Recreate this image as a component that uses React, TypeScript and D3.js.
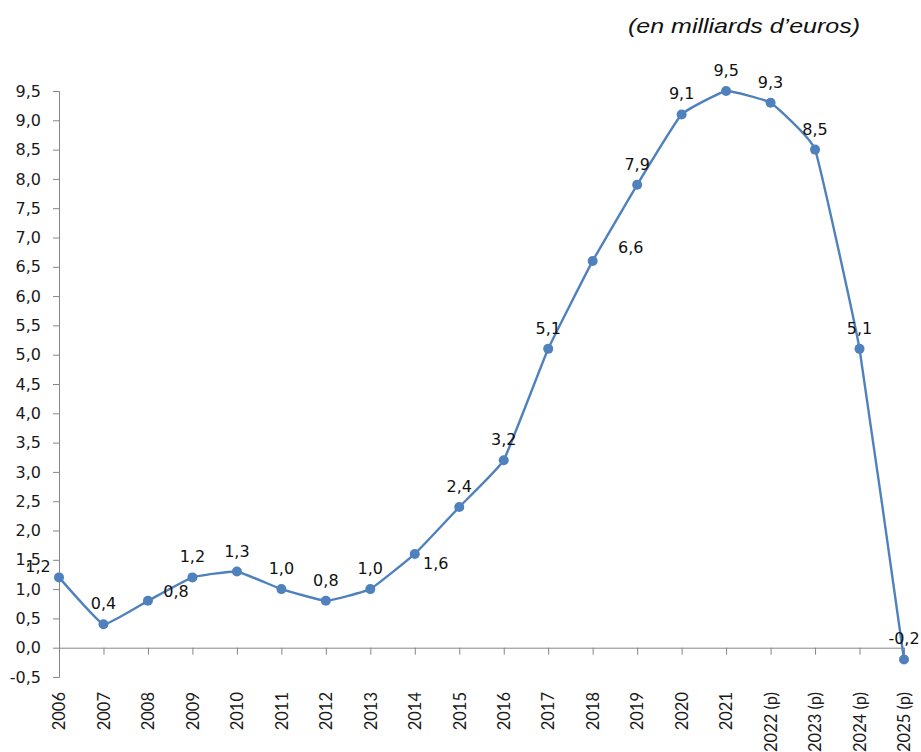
import React, { useRef, useEffect } from 'react';
import * as d3 from 'd3';

const years = [
  '2006', '2007', '2008', '2009', '2010', '2011', '2012', '2013', '2014', '2015',
  '2016', '2017', '2018', '2019', '2020', '2021', '2022 (p)', '2023 (p)', '2024 (p)', '2025 (p)',
];
const values = [1.2, 0.4, 0.8, 1.2, 1.3, 1.0, 0.8, 1.0, 1.6, 2.4, 3.2, 5.1, 6.6, 7.9, 9.1, 9.5, 9.3, 8.5, 5.1, -0.2];
const yTicks = [-0.5, 0, 0.5, 1, 1.5, 2, 2.5, 3, 3.5, 4, 4.5, 5, 5.5, 6, 6.5, 7, 7.5, 8, 8.5, 9, 9.5];

// label placement tweaks where the default (centered above) was moved
const labelShift: Record<string, [number, number]> = {
  '2006': [-21, -5],
  '2008': [28, -4],
  '2014': [21, 15],
  '2018': [38, -8],
};

const width = 921;
const height = 752;
const blue = '#4F81BD';
const axisGrey = '#868686';
const fmt = (v: number) => v.toFixed(1).replace('.', ',');

const App: React.FC = () => {
  const svgRef = useRef<SVGSVGElement | null>(null);

  useEffect(() => {
    const svg = d3.select(svgRef.current!);
    svg.selectAll('*').remove();

    const x = d3.scalePoint<string>().domain(years).range([59, 904]);
    const y = d3.scaleLinear().domain([-0.5, 9.5]).range([677, 91]);
    const font = '"DejaVu Sans", Verdana, sans-serif';

    // y axis
    const yAxis = svg.append('g')
      .attr('transform', 'translate(59,0)')
      .call(d3.axisLeft(y).tickValues(yTicks).tickSize(6).tickPadding(12).tickFormat((d) => fmt(+d)));
    yAxis.selectAll('line, path').attr('stroke', axisGrey);
    yAxis.selectAll('text').attr('font-family', font).attr('font-size', 16).attr('fill', '#1a1a1a');

    // x axis at zero
    const xAxis = svg.append('g')
      .attr('transform', `translate(0,${y(0)})`)
      .call(d3.axisBottom(x).tickSize(7).tickSizeOuter(0));
    xAxis.selectAll('line, path').attr('stroke', axisGrey);
    xAxis.selectAll('text')
      .attr('font-family', 'Lato, "Open Sans", sans-serif')
      .attr('font-size', 16.5)
      .attr('fill', '#1a1a1a')
      .attr('transform', `translate(0,${692 - y(0)}) rotate(-90)`)
      .attr('x', 0)
      .attr('y', 0)
      .attr('dy', '0.35em')
      .attr('text-anchor', 'end');

    const line = d3.line<number>()
      .x((_, i) => x(years[i])!)
      .y((d) => y(d))
      .curve(d3.curveCardinal.tension(0.7));

    svg.append('path')
      .datum(values)
      .attr('d', line)
      .attr('fill', 'none')
      .attr('stroke', blue)
      .attr('stroke-width', 2.4);

    svg.selectAll('circle.pt')
      .data(values)
      .enter()
      .append('circle')
      .attr('class', 'pt')
      .attr('cx', (_, i) => x(years[i])!)
      .attr('cy', (d) => y(d))
      .attr('r', 5)
      .attr('fill', blue);

    svg.selectAll('text.lbl')
      .data(values)
      .enter()
      .append('text')
      .attr('class', 'lbl')
      .attr('x', (_, i) => x(years[i])! + (labelShift[years[i]]?.[0] ?? 0))
      .attr('y', (d, i) => y(d) + (labelShift[years[i]]?.[1] ?? -15))
      .attr('text-anchor', 'middle')
      .attr('font-family', font)
      .attr('font-size', 16)
      .attr('fill', '#111')
      .text((d) => fmt(d));

    svg.append('text')
      .attr('x', 628)
      .attr('y', 33)
      .attr('font-family', '"Liberation Sans", Arial, sans-serif')
      .attr('font-style', 'italic')
      .attr('font-size', 21)
      .attr('textLength', 232)
      .attr('lengthAdjust', 'spacingAndGlyphs')
      .attr('fill', '#111')
      .text('(en milliards d’euros)');
  }, []);

  return (
    <svg
      ref={svgRef}
      width={width}
      height={height}
      style={{ position: 'absolute', left: 0, top: 0, background: '#fff' }}
    />
  );
};

export default App;
